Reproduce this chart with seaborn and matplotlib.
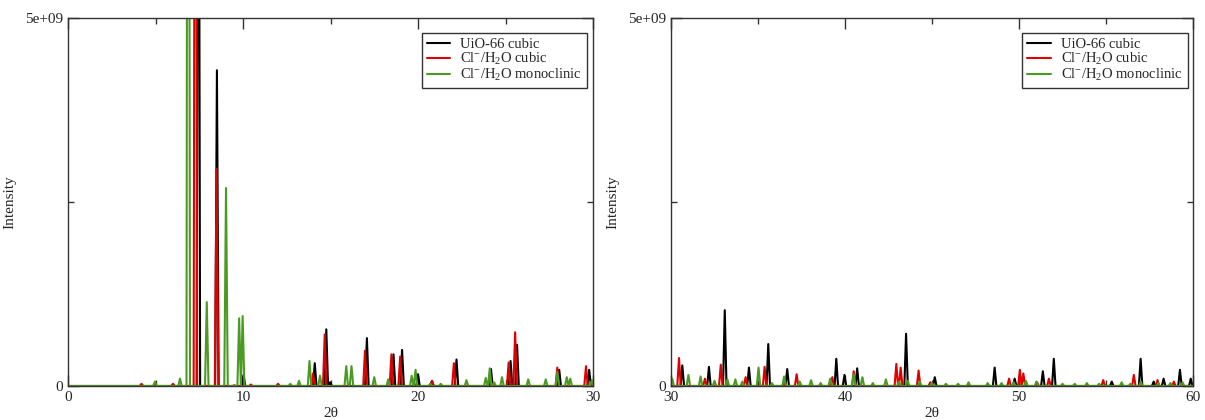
import numpy as np
import pandas as pd
import seaborn as sns
import matplotlib.pyplot as plt
from matplotlib.ticker import MultipleLocator

# peak positions (2theta) and heights (intensity, in units of 1e9)
# left panel, 0-30
uio_left_pos = [4.97, 7.45, 8.51, 10.03, 14.1, 14.76, 14.98, 17.08, 18.6, 19.09, 20.0, 20.8,
                22.2, 24.17, 25.29, 25.66, 28.07, 29.78]
uio_left_h = [0.04, 12.0, 4.29, 0.15, 0.31, 0.77, 0.05, 0.65, 0.43, 0.49, 0.16, 0.07,
              0.36, 0.23, 0.34, 0.56, 0.22, 0.22]

clc_left_pos = [4.2, 6.0, 7.28, 8.49, 9.5, 10.45, 12.0, 14.0, 14.67, 16.97, 18.48, 18.98,
                20.8, 22.05, 24.1, 25.18, 25.55, 27.96, 29.6]
clc_left_h = [0.03, 0.03, 15.0, 2.95, 0.01, 0.02, 0.03, 0.17, 0.70, 0.48, 0.43, 0.40,
              0.07, 0.31, 0.10, 0.32, 0.73, 0.25, 0.27]

clm_left_pos = [4.97, 6.4, 6.87, 7.93, 9.03, 9.78, 9.98, 12.7, 13.2, 13.8, 14.4, 15.9, 16.2,
                17.5, 18.3, 19.64, 19.86, 20.7, 21.3, 22.77, 23.87, 24.1, 24.35, 24.8,
                26.3, 27.3, 27.96, 28.5, 28.7, 29.93]
clm_left_h = [0.06, 0.10, 20.0, 1.14, 2.69, 0.92, 0.95, 0.03, 0.07, 0.34, 0.14, 0.27, 0.27,
              0.12, 0.09, 0.14, 0.22, 0.03, 0.03, 0.08, 0.11, 0.24, 0.05, 0.12,
              0.09, 0.09, 0.19, 0.12, 0.10, 0.08]

# right panel, 30-60
uio_right_pos = [30.65, 32.18, 33.09, 34.48, 35.59, 36.68, 39.5, 39.97, 40.7, 43.51, 45.16,
                 48.6, 49.75, 51.37, 52.0, 55.33, 56.99, 57.74, 58.31, 59.25, 59.87]
uio_right_h = [0.28, 0.26, 1.03, 0.25, 0.57, 0.23, 0.37, 0.15, 0.24, 0.71, 0.12,
               0.25, 0.10, 0.20, 0.37, 0.06, 0.37, 0.06, 0.10, 0.22, 0.10]

clc_right_pos = [30.46, 31.95, 32.86, 34.29, 35.38, 36.5, 37.22, 39.27, 40.5, 42.95, 43.2,
                 44.23, 44.9, 49.43, 50.05, 50.25, 51.04, 51.72, 54.84, 56.6, 57.96, 58.9]
clc_right_h = [0.38, 0.10, 0.29, 0.12, 0.26, 0.05, 0.16, 0.12, 0.20, 0.30, 0.25,
               0.21, 0.05, 0.10, 0.22, 0.17, 0.05, 0.10, 0.08, 0.15, 0.08, 0.06]

clm_right_pos = [30.07, 31.0, 31.7, 32.5, 33.24, 33.7, 34.1, 35.03, 35.8, 36.5, 37.4, 38.05,
                 38.6, 39.15, 40.5, 41.0, 41.6, 42.35, 43.1, 43.6, 44.3, 45.0, 45.8, 46.5,
                 47.1, 48.2, 49.0, 49.7, 50.4, 51.0, 52.5, 53.2, 53.9, 54.6, 55.9, 56.4,
                 57.0, 58.0, 58.7, 59.4]
clm_right_h = [0.10, 0.15, 0.13, 0.07, 0.09, 0.09, 0.06, 0.25, 0.04, 0.13, 0.06, 0.08,
               0.04, 0.10, 0.16, 0.12, 0.04, 0.09, 0.06, 0.07, 0.06, 0.04, 0.03, 0.03,
               0.05, 0.04, 0.04, 0.05, 0.07, 0.06, 0.03, 0.03, 0.04, 0.03, 0.05, 0.03,
               0.06, 0.04, 0.04, 0.05]

labels = ['UiO-66 cubic', r'Cl$^{-}$/H$_{2}$O cubic', r'Cl$^{-}$/H$_{2}$O monoclinic']
colors = ['#000000', '#e00000', '#4a9a24']


def stick_pattern(pos, hts, lo, hi, hw=0.1):
    xs, ys = [lo], [0.0]
    for p, h in zip(pos, hts):
        xs += [p - hw, p, p + hw]
        ys += [0.0, h * 1e9, 0.0]
    xs.append(hi)
    ys.append(0.0)
    return xs, ys


def build_frame(series, lo, hi):
    rows = []
    for lab, (pos, hts) in zip(labels, series):
        xs, ys = stick_pattern(pos, hts, lo, hi)
        rows.append(pd.DataFrame({'2theta': xs, 'I': ys, 'phase': lab}))
    return pd.concat(rows, ignore_index=True)


left = build_frame([(uio_left_pos, uio_left_h), (clc_left_pos, clc_left_h),
                    (clm_left_pos, clm_left_h)], -0.2, 30.2)
right = build_frame([(uio_right_pos, uio_right_h), (clc_right_pos, clc_right_h),
                     (clm_right_pos, clm_right_h)], 29.8, 60.2)

sns.set_theme(style='ticks')
plt.rcParams['font.family'] = ['Liberation Serif', 'DejaVu Serif']
plt.rcParams['mathtext.fontset'] = 'custom'
plt.rcParams['mathtext.rm'] = 'Liberation Serif'
plt.rcParams['mathtext.it'] = 'Liberation Serif:italic'

fig = plt.figure(figsize=(12.05, 4.2), dpi=100)
ax1 = fig.add_axes([68 / 1205, 34 / 420, 525 / 1205, 368 / 420])
ax2 = fig.add_axes([671 / 1205, 34 / 420, 522 / 1205, 368 / 420])

for ax, df, xlim, legx in [(ax1, left, (0, 30), 0.989), (ax2, right, (30, 60), 0.990)]:
    sns.lineplot(data=df, x='2theta', y='I', hue='phase', hue_order=labels,
                 palette=colors, estimator=None, sort=False, linewidth=1.5, ax=ax)
    ax.set_xlim(*xlim)
    ax.set_ylim(0, 5e9)
    ax.xaxis.set_major_locator(MultipleLocator(10))
    ax.xaxis.set_minor_locator(MultipleLocator(5))
    ax.set_yticks([0, 5e9], labels=['0', '5e+09'])
    ax.set_yticks([2.5e9], minor=True)
    ax.tick_params(which='both', direction='in', top=True, right=True,
                   labelsize=11, color='#333333', width=1)
    ax.tick_params(which='major', length=8)
    ax.tick_params(which='minor', length=4)
    for sp in ax.spines.values():
        sp.set_color('#333333')
        sp.set_linewidth(1)
    ax.set_xlabel('2θ', fontsize=11, labelpad=2)
    ax.set_ylabel('Intensity', fontsize=11, labelpad=6)
    leg = ax.legend(loc='upper right', bbox_to_anchor=(legx, 0.96), borderaxespad=0,
                    fontsize=10.5, frameon=True, fancybox=False, edgecolor='#333333',
                    framealpha=1, handlelength=1.6, handletextpad=0.7,
                    borderpad=0.35, labelspacing=0.0)
    leg.get_frame().set_linewidth(1)

fig.savefig('out.png', dpi=100)
